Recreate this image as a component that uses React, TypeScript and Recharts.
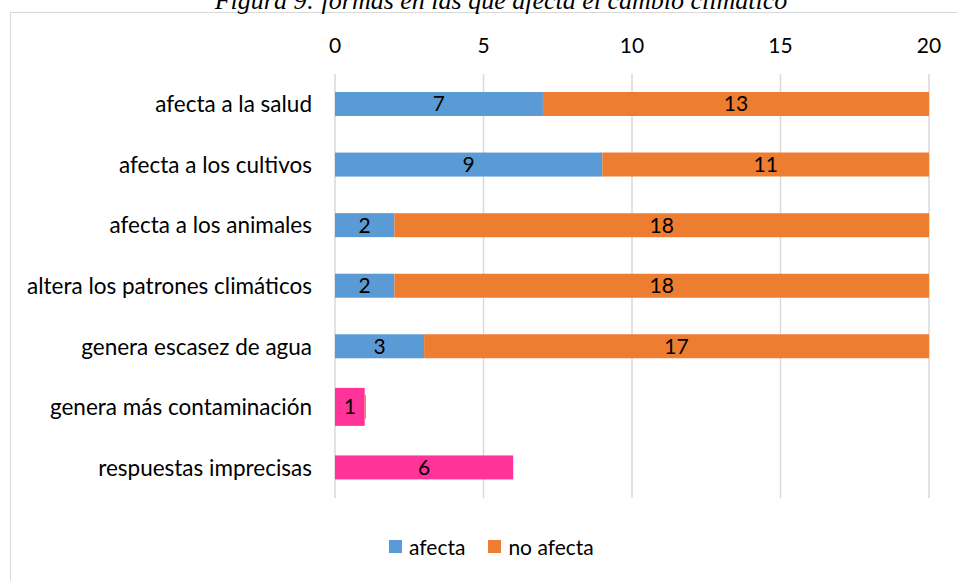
import React from 'react';
import { BarChart, Bar, XAxis, YAxis, CartesianGrid, Cell, LabelList } from 'recharts';

const categories = [
  'afecta a la salud',
  'afecta a los cultivos',
  'afecta a los animales',
  'altera los patrones climáticos',
  'genera escasez de agua',
  'genera más contaminación',
  'respuestas imprecisas',
];
const afecta = [7, 9, 2, 2, 3, 1, 6];
const noAfecta = [13, 11, 18, 18, 17, 0.04, 0];
const xTicks = [0, 5, 10, 15, 20];

const BLUE = '#5b9bd5';
const ORANGE = '#ed7d31';
const PINK = '#ff3399';
const FONT = 'Lato, "Open Sans", sans-serif';
const FS = 21;

const data = categories.map((name, i) => ({ name, afecta: afecta[i], noAfecta: noAfecta[i] }));

// the last two rows are highlighted in pink; "genera más contaminación" is drawn taller
const isPink = (i: number) => i >= 5;

const AfectaShape = (props: any) => {
  const { x, y, width, height, fill, index } = props;
  if (index === 5) {
    const h = 38;
    return <rect x={x} y={y + height / 2 - h / 2} width={width} height={h} fill={fill} />;
  }
  return <rect x={x} y={y} width={width} height={height} fill={fill} />;
};

const hideSmall = (v: any) => (Number(v) >= 0.5 ? v : '');

export default function App() {
  return (
    <div style={{ position: 'absolute', left: 0, top: 0, width: 957, height: 581, overflow: 'hidden', background: '#fff' }}>
      <div
        style={{
          position: 'absolute',
          left: 10,
          top: 12,
          width: 1000,
          height: 700,
          border: '1.5px solid #d9d9d9',
          boxSizing: 'border-box',
        }}
      />
      <svg width={957} height={30} style={{ position: 'absolute', left: 0, top: 0 }}>
        <text
          x={501}
          y={9}
          textAnchor="middle"
          fontFamily='"Liberation Serif", "Times New Roman", serif'
          fontStyle="italic"
          fontSize={26}
          fill="#000"
        >
          Figura 9: formas en las que afecta el cambio climático
        </text>
      </svg>
      <div style={{ position: 'absolute', left: 0, top: 0 }}>
        <BarChart
          width={957}
          height={581}
          data={data}
          layout="vertical"
          margin={{ top: 14, right: 28, left: 0, bottom: 83 }}
          barSize={24}
        >
          <CartesianGrid horizontal={false} stroke="#d9d9d9" strokeWidth={1.5} />
          <XAxis
            type="number"
            orientation="top"
            domain={[0, 20]}
            ticks={xTicks}
            height={60}
            axisLine={false}
            tickLine={false}
            tickSize={0}
            tickMargin={21}
            tick={{ fill: '#000', fontSize: FS, fontFamily: FONT }}
          />
          <YAxis
            type="category"
            dataKey="name"
            width={335}
            axisLine={false}
            tickLine={false}
            tickSize={0}
            tickMargin={23}
            tick={{ fill: '#000', fontSize: 22.5, fontFamily: FONT }}
          />
          <Bar dataKey="afecta" stackId="a" fill={BLUE} isAnimationActive={false} shape={<AfectaShape />}>
            {data.map((_, i) => (
              <Cell key={`c-${i}`} fill={isPink(i) ? PINK : BLUE} />
            ))}
            <LabelList dataKey="afecta" position="center" fill="#000" fontSize={FS} fontFamily={FONT} />
          </Bar>
          <Bar dataKey="noAfecta" stackId="a" fill={ORANGE} isAnimationActive={false}>
            <LabelList
              dataKey="noAfecta"
              position="center"
              fill="#000"
              fontSize={FS}
              fontFamily={FONT}
              formatter={hideSmall}
            />
          </Bar>
        </BarChart>
      </div>
      <div
        style={{
          position: 'absolute',
          top: 534,
          left: 389,
          display: 'flex',
          alignItems: 'center',
          fontFamily: FONT,
          fontSize: FS,
          color: '#000',
        }}
      >
        <span style={{ width: 13, height: 13, background: BLUE, display: 'inline-block', marginRight: 7 }} />
        <span style={{ marginRight: 23 }}>afecta</span>
        <span style={{ width: 13, height: 13, background: ORANGE, display: 'inline-block', marginRight: 7 }} />
        <span>no afecta</span>
      </div>
    </div>
  );
}
